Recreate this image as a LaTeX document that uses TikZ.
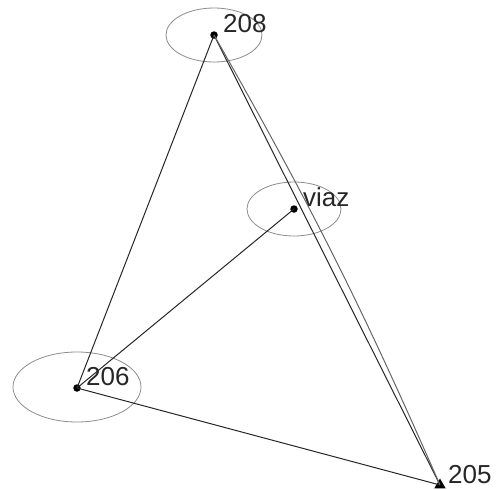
\documentclass[tikz,border=0pt]{standalone}
\usepackage{fontspec}
\setmainfont{Liberation Sans}
\usetikzlibrary{shapes.geometric}
\begin{document}
\begin{tikzpicture}[x=1pt,y=-1pt,
  pt/.style={circle,fill=black,inner sep=0pt,minimum size=7.5pt},
  tri/.style={regular polygon,regular polygon sides=3,fill=black,inner sep=0pt,minimum size=13pt},
  ell/.style={draw=gray!90,line width=0.8pt},
  edge/.style={draw=black!85,line width=1pt},
  lbl/.style={anchor=base west,inner sep=0pt,font=\fontsize{26}{30}\selectfont,text=black!85}]
\useasboundingbox (0,0) rectangle (499,490);
\draw[ell] (214,35) ellipse [x radius=48, y radius=27];
\draw[ell] (294,209) ellipse [x radius=47, y radius=27];
\draw[ell] (77,387) ellipse [x radius=64, y radius=35];
\node[pt] (n208) at (214,35) {};
\node[pt] (viaz) at (294,209) {};
\node[pt] (n206) at (77,388) {};
\node[tri] (n205) at (440,485) {};
\coordinate (c205) at (440,485);
\node[lbl] (l208) at (223,32) {208};
\node[lbl] (lviaz) at (303,206) {viaz};
\node[lbl] (l206) at (86,385) {206};
\node[lbl] (l205) at (448,483) {205};
\draw[edge] (n206.center) -- (n208.center);
\draw[edge] (n206.center) -- (viaz.center);
\draw[edge] (n206.center) -- (c205);
\draw[edge] (n208.center) -- (c205);
\draw[edge,draw=black!60] (n208.center) to[bend left=3] (c205);
\end{tikzpicture}
\end{document}
